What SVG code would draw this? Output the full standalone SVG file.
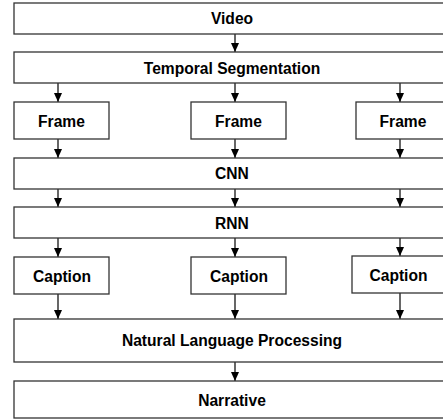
<svg xmlns="http://www.w3.org/2000/svg" width="443" height="419" viewBox="0 0 443 419">
<defs>
<marker id="ah" markerWidth="8" markerHeight="10" refX="4" refY="9" orient="auto-start-reverse" markerUnits="userSpaceOnUse" viewBox="0 0 8 10">
<path d="M0,0 L8,0 L4,10 Z" fill="#000"/>
</marker>
</defs>
<style>
.b{fill:#fff;stroke:#333;stroke-width:1.3}
.t{font-family:"Liberation Sans",Arial,sans-serif;font-weight:bold;font-size:15.6px;fill:#000;text-anchor:middle}
.c{stroke:#000;stroke-width:1.2;fill:none}
</style>
<rect width="443" height="419" fill="#fff"/>
<g id="connectors">
<line class="c" x1="235" y1="34" x2="235" y2="52"/>
<path d="M231,43 L239,43 L235,52 Z" fill="#000"/>
<line class="c" x1="58" y1="83" x2="58" y2="102"/>
<path d="M54,93 L62,93 L58,102 Z" fill="#000"/>
<line class="c" x1="235" y1="83" x2="235" y2="102"/>
<path d="M231,93 L239,93 L235,102 Z" fill="#000"/>
<line class="c" x1="400" y1="83" x2="400" y2="102"/>
<path d="M396,93 L404,93 L400,102 Z" fill="#000"/>
<line class="c" x1="58" y1="139" x2="58" y2="158"/>
<path d="M54,149 L62,149 L58,158 Z" fill="#000"/>
<line class="c" x1="235" y1="139" x2="235" y2="158"/>
<path d="M231,149 L239,149 L235,158 Z" fill="#000"/>
<line class="c" x1="400" y1="139" x2="400" y2="158"/>
<path d="M396,149 L404,149 L400,158 Z" fill="#000"/>
<line class="c" x1="58" y1="189" x2="58" y2="207"/>
<path d="M54,198 L62,198 L58,207 Z" fill="#000"/>
<line class="c" x1="235" y1="189" x2="235" y2="207"/>
<path d="M231,198 L239,198 L235,207 Z" fill="#000"/>
<line class="c" x1="400" y1="189" x2="400" y2="207"/>
<path d="M396,198 L404,198 L400,207 Z" fill="#000"/>
<line class="c" x1="58" y1="238" x2="58" y2="257"/>
<path d="M54,248 L62,248 L58,257 Z" fill="#000"/>
<line class="c" x1="235" y1="238" x2="235" y2="257"/>
<path d="M231,248 L239,248 L235,257 Z" fill="#000"/>
<line class="c" x1="400" y1="238" x2="400" y2="256"/>
<path d="M396,247 L404,247 L400,256 Z" fill="#000"/>
<line class="c" x1="58" y1="294" x2="58" y2="319"/>
<path d="M54,310 L62,310 L58,319 Z" fill="#000"/>
<line class="c" x1="235" y1="294" x2="235" y2="319"/>
<path d="M231,310 L239,310 L235,319 Z" fill="#000"/>
<line class="c" x1="400" y1="293" x2="400" y2="319"/>
<path d="M396,310 L404,310 L400,319 Z" fill="#000"/>
<line class="c" x1="235" y1="362" x2="235" y2="381"/>
<path d="M231,372 L239,372 L235,381 Z" fill="#000"/>
</g>
<g id="video"><rect class="b" x="14" y="3" width="436" height="31"/><text class="t" x="232" y="24">Video</text></g>
<g id="segmentation"><rect class="b" x="14" y="52" width="436" height="31"/><text class="t" x="232" y="74">Temporal Segmentation</text></g>
<g id="frame1"><rect class="b" x="14" y="102" width="95" height="37"/><text class="t" x="61.5" y="127">Frame</text></g>
<g id="frame2"><rect class="b" x="191" y="102" width="95" height="37"/><text class="t" x="238.5" y="127">Frame</text></g>
<g id="frame3"><rect class="b" x="356" y="102" width="95" height="37"/><text class="t" x="403" y="127">Frame</text></g>
<g id="cnn"><rect class="b" x="14" y="158" width="436" height="31"/><text class="t" x="232" y="179">CNN</text></g>
<g id="rnn"><rect class="b" x="14" y="207" width="436" height="31"/><text class="t" x="232" y="228.5">RNN</text></g>
<g id="caption1"><rect class="b" x="14" y="257" width="95" height="37"/><text class="t" x="62" y="281.5">Caption</text></g>
<g id="caption2"><rect class="b" x="191" y="257" width="95" height="37"/><text class="t" x="239" y="281.5">Caption</text></g>
<g id="caption3"><rect class="b" x="352" y="256" width="93" height="37"/><text class="t" x="398.5" y="280.5">Caption</text></g>
<g id="nlp"><rect class="b" x="14" y="319" width="436" height="43"/><text class="t" x="232" y="346">Natural Language Processing</text></g>
<g id="narrative"><rect class="b" x="14" y="381" width="436" height="37"/><text class="t" x="232" y="405.5">Narrative</text></g>
</svg>
